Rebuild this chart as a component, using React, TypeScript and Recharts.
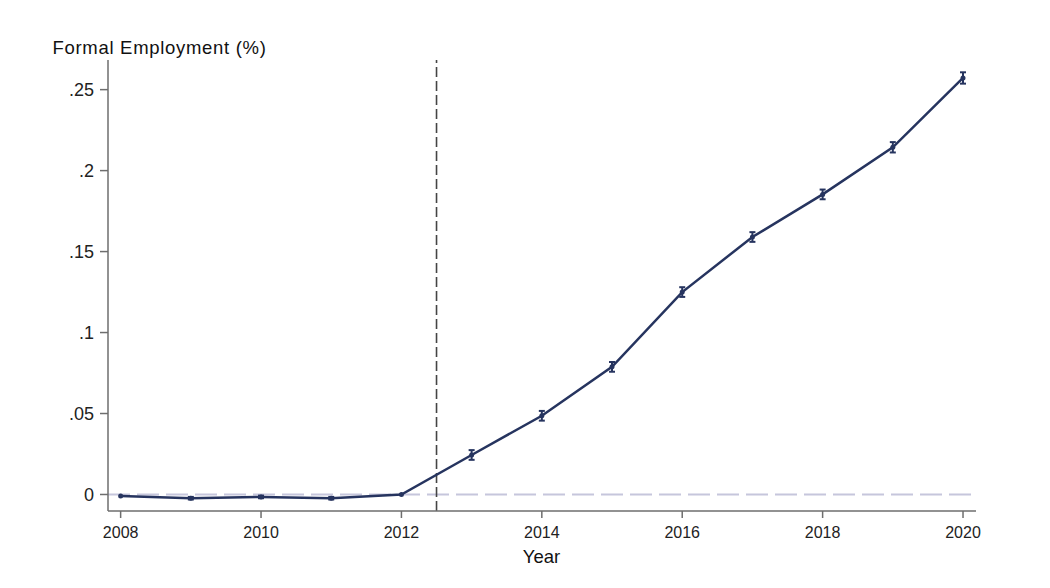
import React from 'react';
import { LineChart, Line, XAxis, YAxis, ReferenceLine, ErrorBar } from 'recharts';

// event-study estimates
const years = [2008, 2009, 2010, 2011, 2012, 2013, 2014, 2015, 2016, 2017, 2018, 2019, 2020];
const estimates = [-0.0009, -0.0023, -0.0015, -0.0023, 0.0, 0.0244, 0.0486, 0.0788, 0.125, 0.159, 0.1853, 0.2144, 0.2572];
const ciHalfWidth = [0, 0.0008, 0.0008, 0.0008, 0, 0.003, 0.003, 0.003, 0.003, 0.003, 0.003, 0.0032, 0.0035];

const xTicks = [2008, 2010, 2012, 2014, 2016, 2018, 2020];
const yTicks = [0, 0.05, 0.1, 0.15, 0.2, 0.25];
const treatmentYear = 2012.5;

const data = years.map((year, i) => ({ year, coef: estimates[i], err: ciHalfWidth[i] }));

const NAVY = '#26345f';
const AXIS = '#6e6e6e';
const FONT = '"Liberation Sans", Arial, Helvetica, sans-serif';

const fmtY = (v: number) => (v === 0 ? '0' : String(v).replace(/^0/, ''));

const App: React.FC = () => {
  return (
    <div style={{ position: 'absolute', left: 0, top: 0, width: 1050, height: 588, background: '#fff' }}>
      <LineChart
        width={1050}
        height={588}
        data={data}
        margin={{ top: 60, right: 74, left: 48, bottom: 37 }}
      >
        <XAxis
          dataKey="year"
          type="number"
          domain={[2007.82, 2020.185]}
          ticks={xTicks}
          interval={0}
          allowDataOverflow
          height={40}
          stroke={AXIS}
          strokeWidth={1.5}
          tickSize={7}
          tickMargin={9}
          tick={{ fill: '#222', fontSize: 16, fontFamily: FONT }}
        />
        <YAxis
          type="number"
          domain={[-0.0102, 0.2683]}
          ticks={yTicks}
          interval={0}
          allowDataOverflow
          width={60}
          stroke={AXIS}
          strokeWidth={1.5}
          tickSize={8}
          tickMargin={6}
          tickFormatter={fmtY}
          tick={{ fill: '#222', fontSize: 18, fontFamily: FONT }}
        />
        <ReferenceLine y={0} stroke="#c6c6dc" strokeWidth={2} strokeDasharray="22 7" />
        <ReferenceLine x={treatmentYear} stroke="#444" strokeWidth={1.6} strokeDasharray="10 4" />
        <Line
          type="linear"
          dataKey="coef"
          stroke={NAVY}
          strokeWidth={2.5}
          dot={{ r: 2.5, fill: NAVY, stroke: NAVY, strokeWidth: 0 }}
          activeDot={false}
          isAnimationActive={false}
        >
          <ErrorBar dataKey="err" direction="y" width={3} stroke={NAVY} strokeWidth={2} isAnimationActive={false} />
        </Line>
      </LineChart>
      <svg
        width={1050}
        height={588}
        style={{ position: 'absolute', left: 0, top: 0, pointerEvents: 'none' }}
      >
        <text x={52.5} y={54} fontSize={18.5} fontFamily={FONT} fill="#111" letterSpacing={0.7}>
          Formal Employment (%)
        </text>
        <text x={541.5} y={563} fontSize={18.5} fontFamily={FONT} fill="#111" textAnchor="middle">
          Year
        </text>
      </svg>
    </div>
  );
};

export default App;
